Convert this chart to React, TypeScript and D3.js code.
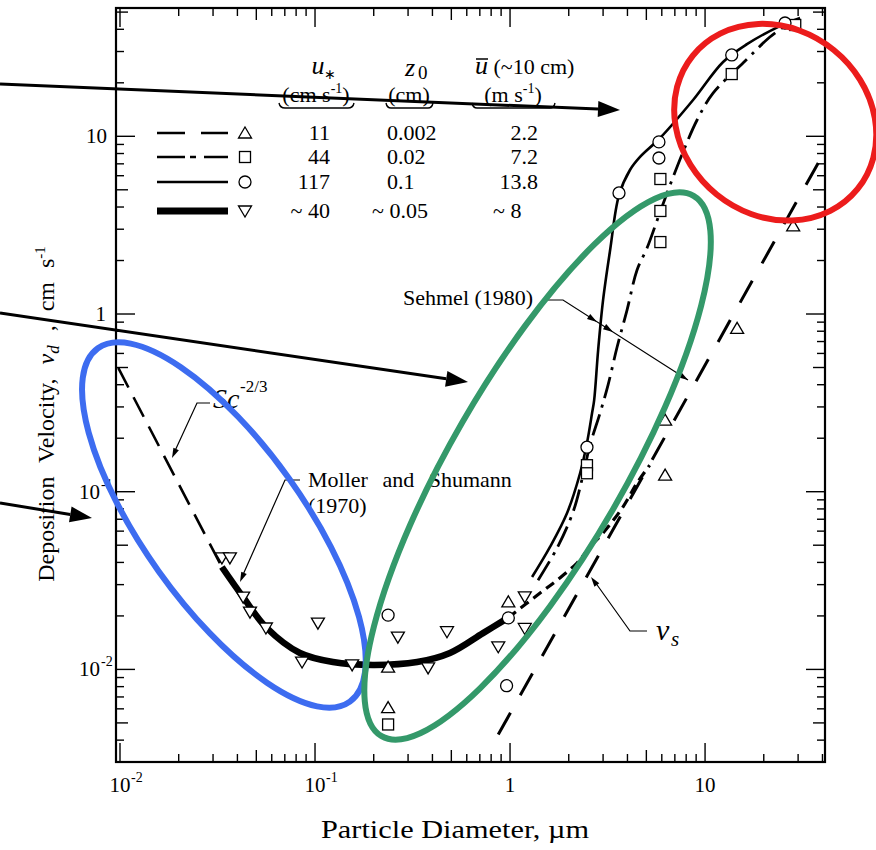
import React from 'react';
import * as d3 from 'd3';

// legend table (u*, z0, u-bar)
const legendUstar = ['11', '44', '117', '~ 40'];
const legendZ0 = ['0.002', '0.02', '0.1', '~ 0.05'];
const legendUbar = ['2.2', '7.2', '13.8', '~ 8'];

// measured points, diameter (um) / deposition velocity (cm/s)
const triUpD = [0.237, 0.237, 0.98, 6.24, 6.24, 14.6, 28.3];
const triUpV = [0.0103, 0.0061, 0.024, 0.253, 0.124, 0.83, 3.13];
const squareD = [0.237, 2.48, 2.48, 5.9, 5.9, 5.9, 13.7, 29];
const squareV = [0.0049, 0.141, 0.127, 5.75, 3.8, 2.54, 22.4, 42.3];
const circleD = [0.237, 0.96, 0.98, 2.48, 3.62, 5.8, 5.8, 13.7, 25.7];
const circleV = [0.0202, 0.0081, 0.0195, 0.178, 4.8, 9.3, 7.55, 28.7, 43.4];
const triDownD = [0.0333, 0.0366, 0.0428, 0.0464, 0.056, 0.0858, 0.1035, 0.155, 0.266, 0.38, 0.475, 0.87, 1.19, 1.19];
const triDownV = [0.0424, 0.0424, 0.0255, 0.021, 0.0171, 0.011, 0.0182, 0.0106, 0.0152, 0.0102, 0.0163, 0.0134, 0.0256, 0.017];

// curves
const scD = [0.0098, 0.0333];
const scV = [0.497, 0.0377];
const thickD = [0.0333, 0.0428, 0.0566, 0.0837, 0.1236, 0.198, 0.334, 0.492, 0.727, 0.976];
const thickV = [0.0377, 0.0255, 0.0171, 0.01237, 0.011, 0.0106, 0.011, 0.01237, 0.016, 0.0195];
const contD = [0.976, 1.426, 1.743, 2.205, 2.57, 3.0, 3.79, 4.48, 5.2];
const contV = [0.0195, 0.0269, 0.0318, 0.0397, 0.0489, 0.0586, 0.082, 0.112, 0.141];
const solidD = [1.297, 1.603, 1.961, 2.286, 2.48, 2.634, 2.7, 2.83, 3.0, 3.26, 3.62, 4.12, 4.64, 5.88, 8.68, 12.37, 16.4, 24.2, 30.7];
const solidV = [0.0331, 0.0489, 0.0759, 0.127, 0.188, 0.277, 0.328, 0.627, 1.2, 2.29, 4.67, 6.46, 7.65, 9.78, 16.0, 26.2, 33.0, 41.7, 46.3];
const dashDotD = [1.392, 1.742, 2.104, 2.368, 2.57, 2.894, 3.18, 3.54, 3.98, 4.48, 5.04, 5.88, 6.77, 7.71, 9.1, 10.99, 15.7, 21.5, 28.3];
const dashDotV = [0.0318, 0.0482, 0.0769, 0.124, 0.183, 0.277, 0.398, 0.652, 1.053, 1.77, 2.35, 3.75, 5.68, 8.16, 12.35, 17.5, 25.9, 36.2, 45.1];
const vsD = [0.87, 38.8];
const vsV = [0.0043, 7.35];

const X0 = 116, X1 = 825, Y0 = 8, Y1 = 762;
const x = d3.scaleLog().domain([10 ** -2.0205, 10 ** 1.615]).range([X0, X1]);
const y = d3.scaleLog().domain([10 ** -2.521, 10 ** 1.722]).range([Y1, Y0]);

const zip = (a: number[], b: number[]) => a.map((d, i) => [d, b[i]] as [number, number]);
const smooth = d3.line<[number, number]>().x(p => x(p[0])).y(p => y(p[1])).curve(d3.curveCatmullRom.alpha(0.5));
const straight = d3.line<[number, number]>().x(p => x(p[0])).y(p => y(p[1]));

const FONT = 'Liberation Serif, Times New Roman, Times, serif';

function tickLen(t: number) {
  const m = Math.round(t / 10 ** Math.floor(Math.log10(t) + 1e-9));
  return m === 1 ? 19 : m === 5 ? 12 : 8;
}

function Marker({ kind, cx, cy }: { kind: string; cx: number; cy: number }) {
  const st = { fill: '#fff', stroke: '#000', strokeWidth: 1.3 };
  if (kind === 'up') return <path d={`M${cx},${cy - 6}L${cx + 6.5},${cy + 5}L${cx - 6.5},${cy + 5}Z`} {...st} />;
  if (kind === 'down') return <path d={`M${cx - 6.5},${cy - 5}L${cx + 6.5},${cy - 5}L${cx},${cy + 6}Z`} {...st} />;
  if (kind === 'sq') return <rect x={cx - 5.5} y={cy - 5.5} width={11} height={11} {...st} />;
  return <circle cx={cx} cy={cy} r={6} {...st} />;
}

function Arrow({ x1, y1, x2, y2, w = 3, head = 22, hw = 8 }: any) {
  const a = Math.atan2(y2 - y1, x2 - x1);
  const bx = x2 - head * Math.cos(a), by = y2 - head * Math.sin(a);
  const px = -Math.sin(a) * hw, py = Math.cos(a) * hw;
  return (
    <g>
      <line x1={x1} y1={y1} x2={bx} y2={by} stroke="#000" strokeWidth={w} />
      <path d={`M${x2},${y2}L${bx + px},${by + py}L${bx - px},${by - py}Z`} fill="#000" />
    </g>
  );
}

function Head({ x2, y2, fx, fy }: any) {
  const a = Math.atan2(y2 - fy, x2 - fx);
  const bx = x2 - 10 * Math.cos(a), by = y2 - 10 * Math.sin(a);
  const px = -Math.sin(a) * 3, py = Math.cos(a) * 3;
  return <path d={`M${x2},${y2}L${bx + px},${by + py}L${bx - px},${by - py}Z`} fill="#000" />;
}

export default function App() {
  const xTicks = x.ticks();
  const yTicks = y.ticks();
  const legendStyles = [
    { dash: '28,16', w: 2.5 },
    { dash: '28,5,6,8', w: 2.5 },
    { dash: undefined, w: 2.5 },
    { dash: undefined, w: 7 },
  ];
  const legendKinds = ['up', 'sq', 'circ', 'down'];
  const rowY = [133, 157, 182, 211];

  return (
    <svg width={876} height={850} style={{ position: 'absolute', left: 0, top: 0, background: '#fff', fontFamily: FONT }}>
      <rect width={876} height={850} fill="#fff" />
      {/* frame */}
      <rect x={X0} y={Y0} width={X1 - X0} height={Y1 - Y0} fill="none" stroke="#000" strokeWidth={2.2} />
      {xTicks.map((t, i) => (
        <g key={'xt' + i} stroke="#000" strokeWidth={1.4}>
          <line x1={x(t)} x2={x(t)} y1={Y1} y2={Y1 - tickLen(t)} />
          <line x1={x(t)} x2={x(t)} y1={Y0} y2={Y0 + tickLen(t)} />
        </g>
      ))}
      {yTicks.map((t, i) => (
        <g key={'yt' + i} stroke="#000" strokeWidth={1.4}>
          <line x1={X0} x2={X0 + tickLen(t)} y1={y(t)} y2={y(t)} />
          <line x1={X1} x2={X1 - tickLen(t)} y1={y(t)} y2={y(t)} />
        </g>
      ))}
      {/* x tick labels */}
      <g fontSize={21}>
        {[0.01, 0.1].map((t, i) => (
          <g key={'xl' + i}>
            <text x={x(t)} y={792} textAnchor="middle">10</text>
            <text x={x(t) + 11} y={782} fontSize={14}>{i === 0 ? '-2' : '-1'}</text>
          </g>
        ))}
        <text x={x(1)} y={792} textAnchor="middle">1</text>
        <text x={x(10)} y={792} textAnchor="middle">10</text>
      </g>
      {/* y tick labels */}
      <g fontSize={21}>
        <text x={107} y={y(10) + 7} textAnchor="end">10</text>
        <text x={106} y={y(1) + 7} textAnchor="end">1</text>
        {[0.1, 0.01].map((t, i) => (
          <g key={'yl' + i}>
            <text x={100} y={y(t) + 7} textAnchor="end">10</text>
            <text x={101} y={y(t) - 3} fontSize={14}>{i === 0 ? '-1' : '-2'}</text>
          </g>
        ))}
      </g>
      {/* axis titles */}
      <text x={455} y={838} textAnchor="middle" fontSize={25} textLength={268} lengthAdjust="spacingAndGlyphs">Particle  Diameter, µm</text>
      <text transform="translate(54,414) rotate(-90)" textAnchor="middle" fontSize={24} wordSpacing={8}>
        Deposition Velocity, <tspan fontStyle="italic">v</tspan>
        <tspan fontStyle="italic" fontSize={17} dy={5}>d</tspan>
        <tspan dy={-5}> , cm s</tspan>
        <tspan fontSize={15} dy={-9}>-1</tspan>
      </text>

      {/* curves */}
      <path d={straight(zip(scD, scV)) || ''} fill="none" stroke="#000" strokeWidth={2.6} strokeDasharray="22,11" />
      <path d={smooth(zip(thickD, thickV)) || ''} fill="none" stroke="#000" strokeWidth={6.5} />
      <path d={smooth(zip(contD, contV)) || ''} fill="none" stroke="#000" strokeWidth={3.2} strokeDasharray="10,6" />
      <path d={smooth(zip(solidD, solidV)) || ''} fill="none" stroke="#000" strokeWidth={2.6} />
      <path d={smooth(zip(dashDotD, dashDotV)) || ''} fill="none" stroke="#000" strokeWidth={2.8} strokeDasharray="22,7,3,7" />
      <path d={straight(zip(vsD, vsV)) || ''} fill="none" stroke="#000" strokeWidth={3} strokeDasharray="25,20" />

      {/* markers */}
      {zip(triDownD, triDownV).map((p, i) => <Marker key={'dn' + i} kind="down" cx={x(p[0])} cy={y(p[1])} />)}
      {zip(triUpD, triUpV).map((p, i) => <Marker key={'up' + i} kind="up" cx={x(p[0])} cy={y(p[1])} />)}
      {zip(squareD, squareV).map((p, i) => <Marker key={'sq' + i} kind="sq" cx={x(p[0])} cy={y(p[1])} />)}
      {zip(circleD, circleV).map((p, i) => <Marker key={'ci' + i} kind="circ" cx={x(p[0])} cy={y(p[1])} />)}

      {/* legend table */}
      <g fontSize={22}>
        <text x={318} y={74} textAnchor="middle" fontStyle="italic" fontSize={26}>u</text>
        <text x={330} y={79} textAnchor="middle" fontSize={14}>∗</text>
        <text x={316} y={102} textAnchor="middle">(cm s<tspan fontSize={14} dy={-9}>-1</tspan><tspan dy={9}>)</tspan></text>
        <path d="M279,103 Q280,108 285,108 H348 Q353,108 354,103" fill="none" stroke="#000" strokeWidth={1.4} />
        <text x={410} y={76} textAnchor="middle" fontStyle="italic" fontSize={26}>z</text>
        <text x={418} y={79} fontSize={19}>0</text>
        <text x={409} y={102} textAnchor="middle">(cm)</text>
        <path d="M386,103 Q387,108 391,108 H428 Q432,108 433,103" fill="none" stroke="#000" strokeWidth={1.4} />
        <text x={475} y={74}><tspan fontStyle="italic" fontSize={26}>u</tspan> (~10 cm)</text>
        <line x1={476} x2={488} y1={59} y2={59} stroke="#000" strokeWidth={1.5} />
        <text x={513} y={102} textAnchor="middle">(m s<tspan fontSize={14} dy={-9}>-1</tspan><tspan dy={9}>)</tspan></text>
        <path d="M472,103 Q473,108 477,108 H550 Q554,108 555,103" fill="none" stroke="#000" strokeWidth={1.4} />
        {rowY.map((ry, i) => (
          <g key={'lg' + i}>
            <line x1={157} x2={228} y1={ry} y2={ry} stroke="#000" strokeWidth={legendStyles[i].w} strokeDasharray={legendStyles[i].dash} />
            <Marker kind={legendKinds[i]} cx={245} cy={ry} />
            <text x={330} y={ry + 7} textAnchor="end">{legendUstar[i]}</text>
            {legendZ0[i].startsWith('~')
              ? <text x={372} y={ry + 7}>{legendZ0[i]}</text>
              : <text x={387} y={ry + 7}>{legendZ0[i]}</text>}
            {legendUbar[i].startsWith('~')
              ? <text x={493} y={ry + 7}>{legendUbar[i]}</text>
              : <text x={538} y={ry + 7} textAnchor="end">{legendUbar[i]}</text>}
          </g>
        ))}
      </g>

      {/* annotations */}
      <g fontSize={22}>
        <text x={213} y={408} fontStyle="italic" fontSize={28}>Sc</text>
        <text x={240} y={392} fontSize={17}>-2/3</text>
        <path d="M210,403 H197 L174,453" fill="none" stroke="#000" strokeWidth={1.2} />
        <Head x2={172} y2={458} fx={197} fy={403} />
        <text x={308} y={487} wordSpacing={9}>Moller and Shumann</text>
        <text x={308} y={513}>(1970)</text>
        <path d="M300,480 H285 L242,577" fill="none" stroke="#000" strokeWidth={1.2} />
        <Head x2={240} y2={582} fx={285} fy={480} />
        <text x={403} y={305}>Sehmel (1980)</text>
        <path d="M543,300 H563 L688,380" fill="none" stroke="#000" strokeWidth={1.2} />
        <Head x2={597} y2={322} fx={563} fy={300} />
        <Head x2={613} y2={332} fx={563} fy={300} />
        <Head x2={688} y2={380} fx={563} fy={300} />
        <text x={656} y={640} fontStyle="italic" fontSize={30}>v</text>
        <text x={671} y={646} fontStyle="italic" fontSize={21}>s</text>
        <path d="M647,631 H630 L595,582" fill="none" stroke="#000" strokeWidth={1.2} />
        <Head x2={591} y2={577} fx={630} fy={631} />
      </g>

      {/* overlay highlights */}
      <ellipse cx={x(0.0341)} cy={y(0.065)} rx={217} ry={80} transform={`rotate(54.5 ${x(0.0341)} ${y(0.065)})`} fill="none" stroke="#3d6cf0" strokeWidth={6} />
      <ellipse cx={x(1.384)} cy={y(0.1395)} rx={312} ry={87} transform={`rotate(-60 ${x(1.384)} ${y(0.1395)})`} fill="none" stroke="#34996a" strokeWidth={6} />
      <ellipse cx={x(22.9)} cy={y(12.0)} rx={106} ry={93} transform={`rotate(39 ${x(22.9)} ${y(12.0)})`} fill="none" stroke="#ec1c1c" strokeWidth={6} />
      <Arrow x1={0} y1={84} x2={620} y2={110} />
      <Arrow x1={0} y1={313} x2={468} y2={382} />
      <Arrow x1={0} y1={503} x2={92} y2={518} />
    </svg>
  );
}
